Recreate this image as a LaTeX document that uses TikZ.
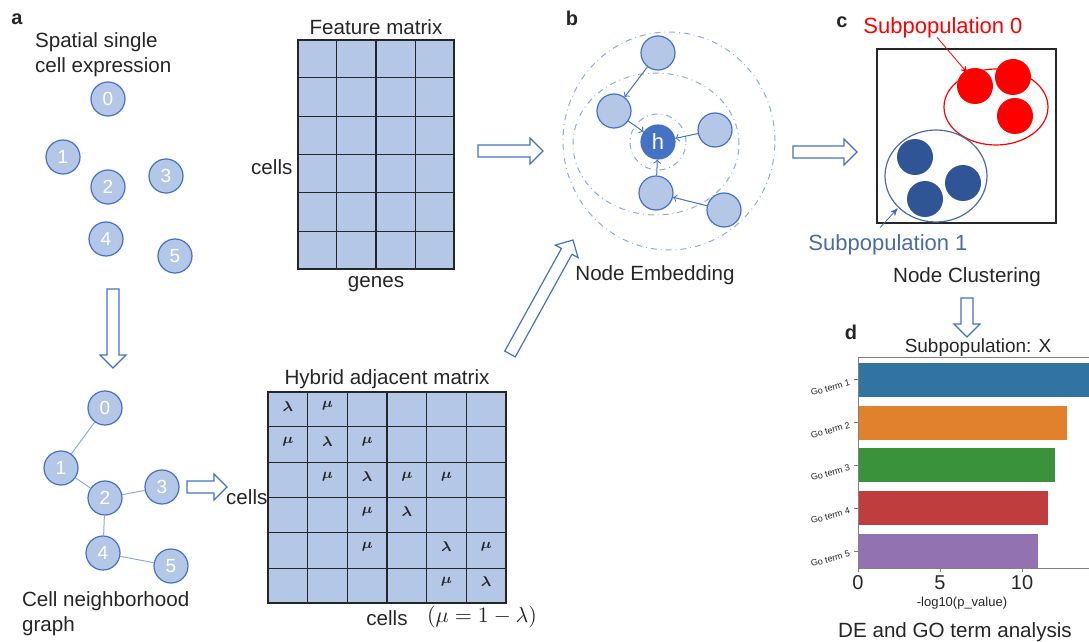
\documentclass[tikz,border=0pt]{standalone}
\usepackage{fontspec}
\setmainfont{Liberation Sans}
\usepackage{amsmath,amssymb}
\usepackage{bm}
\usetikzlibrary{arrows,positioning,calc,shapes.geometric}

\definecolor{celllight}{HTML}{B4C7E7}
\definecolor{cellblue}{HTML}{4472C4}
\definecolor{edgeblue}{HTML}{8FAADC}
\definecolor{darkblue}{HTML}{2F5597}
\definecolor{subblue}{HTML}{4A6AA8}
\definecolor{txt}{HTML}{262626}
\definecolor{sbblue}{HTML}{3274A1}
\definecolor{sborange}{HTML}{E1812C}
\definecolor{sbgreen}{HTML}{3A923A}
\definecolor{sbred}{HTML}{C03D3E}
\definecolor{sbpurple}{HTML}{9372B2}

% hollow block arrow from #1 to #2
\newcommand{\blockarrow}[2]{%
  \path let \p1=(#1), \p2=(#2),
    \n1={veclen(\x2-\x1,\y2-\y1)}, \n2={atan2(\y2-\y1,\x2-\x1)}
    in \pgfextra{\xdef\arrlen{\n1}\xdef\arrang{\n2}};
  \draw[blockarr,shift={(#1)},rotate=\arrang]
    (0pt,-3pt) -- ({\arrlen*1pt-6.5pt},-3pt) -- ({\arrlen*1pt-6.5pt},-6.5pt)
    -- ({\arrlen*1pt},0pt) -- ({\arrlen*1pt-6.5pt},6.5pt)
    -- ({\arrlen*1pt-6.5pt},3pt) -- (0pt,3pt) -- cycle;}

\begin{document}
\begin{tikzpicture}[x=0.5pt,y=-0.5pt,>=stealth',
  every node/.style={text=txt},
  lbl/.style={font=\fontsize{10.3}{12.5}\selectfont},
  panel/.style={font=\fontsize{10}{10}\selectfont\bfseries},
  cell/.style={draw=cellblue,fill=celllight,circle,minimum size=17pt,inner sep=0pt,
    line width=0.6pt,text=white,font=\fontsize{9.5}{9.5}\selectfont},
  nbr/.style={draw=edgeblue,line width=0.5pt},
  mat/.style={draw=black!85,fill=celllight,line width=0.55pt,inner sep=0pt},
  gridline/.style={draw=black!85,line width=0.55pt},
  entry/.style={font=\fontsize{7}{7}\selectfont,inner sep=0pt},
  blockarr/.style={draw=cellblue,fill=white,line width=0.6pt},
  ring/.style={draw=edgeblue,dash dot,line width=0.5pt},
  emb/.style={-to,draw=cellblue,line width=0.5pt},
  dot/.style={circle,minimum size=18pt,inner sep=0pt},
  subarr/.style={->,line width=0.4pt,shorten >=0.5pt},
  axis/.style={draw=black!50,line width=0.5pt},
  goterm/.style={font=\fontsize{4.5}{4.5}\selectfont,anchor=east,rotate=15,inner sep=1pt},
  tick/.style={font=\fontsize{10}{10}\selectfont}]
\useasboundingbox (0,0) rectangle (1089,642);

% a: cells and graph
\node[panel] (la) at (17,19) {a};
\node[lbl,align=left,anchor=west] (title1) at (28,55) {Spatial single\\cell expression};
\node[cell] (s0) at (108,99) {0};
\node[cell] (s1) at (63,157) {1};
\node[cell] (s2) at (108,187) {2};
\node[cell] (s3) at (166,176) {3};
\node[cell] (s4) at (106,239) {4};
\node[cell] (s5) at (175,256) {5};

\node[cell] (g0) at (105,408) {0};
\node[cell] (g1) at (61,468) {1};
\node[cell] (g2) at (105,498) {2};
\node[cell] (g3) at (162,487) {3};
\node[cell] (g4) at (103,553) {4};
\node[cell] (g5) at (171,566) {5};
\draw[nbr] (g0) -- (g1) (g1) -- (g2) (g2) -- (g3) (g2) -- (g4) (g4) -- (g5);
\node[lbl,align=left,anchor=west] (title2) at (15,614) {Cell neighborhood\\graph};

% feature matrix
\node[mat,minimum width=78pt,minimum height=114.5pt] (feat) at (376,154.5) {};
\foreach \i in {1,2,3}
  \draw[gridline] ($(feat.north west)!\i/4!(feat.north east)$) -- ($(feat.south west)!\i/4!(feat.south east)$);
\foreach \j in {1,...,5}
  \draw[gridline] ($(feat.north west)!\j/6!(feat.south west)$) -- ($(feat.north east)!\j/6!(feat.south east)$);
\node[lbl,above=-1pt of feat] (ftitle) {Feature matrix};
\node[lbl,below=0pt of feat] (fgenes) {genes};
\node[lbl,left=-1pt of feat,yshift=-6.5pt] (fcells) {cells};

% hybrid adjacent matrix
\node[mat,minimum width=119pt,minimum height=105.5pt] (hyb) at (387,497.5) {};
\foreach \i in {1,...,5}
  \draw[gridline] ($(hyb.north west)!\i/6!(hyb.north east)$) -- ($(hyb.south west)!\i/6!(hyb.south east)$);
\foreach \j in {1,...,5}
  \draw[gridline] ($(hyb.north west)!\j/6!(hyb.south west)$) -- ($(hyb.north east)!\j/6!(hyb.south east)$);
\foreach \r/\c/\v in {1/1/\lambda,1/2/\mu,2/1/\mu,2/2/\lambda,2/3/\mu,
    3/2/\mu,3/3/\lambda,3/4/\mu,3/5/\mu,4/3/\mu,4/4/\lambda,
    5/3/\mu,5/5/\lambda,5/6/\mu,6/5/\mu,6/6/\lambda}
  \node[entry] (e\r\c) at ({268+39.67*\c-19.83},{392+35.17*\r-21}) {$\bm{\v}$};
\node[lbl,above=-2pt of hyb] (htitle) {Hybrid adjacent matrix};
\node[lbl,left=-3.5pt of hyb] (hcells) {cells};
\node[lbl,below=0pt of hyb] (hcells2) {cells};
\node[font=\fontsize{11}{11}\selectfont] (murel) at (482,617) {$(\mu=1-\lambda)$};

% b: node embedding
\node[panel] (lb) at (572,18) {b};
\draw[ring] (658,142) circle[radius=14pt];
\draw[ring] (656,144) ellipse[x radius=41.5pt,y radius=35.5pt];
\draw[ring] (669,141) ellipse[x radius=53pt,y radius=54.5pt];
\node[cell,fill=cellblue,font=\fontsize{11}{11}\selectfont] (h) at (658,142) {h};
\node[cell] (b1) at (658,53) {};
\node[cell] (b2) at (614,111) {};
\node[cell] (b3) at (715,130) {};
\node[cell] (b4) at (656,193) {};
\node[cell] (b5) at (724,210) {};
\draw[emb] (b1) -- (b2);
\draw[emb] (b2) -- (h);
\draw[emb] (b3) -- (h);
\draw[emb] (b4) -- (h);
\draw[emb] (b5) -- (b4);
\node[lbl] (embtxt) at (655,275) {Node Embedding};

% c: clustering
\node[panel] (lc) at (842,22) {c};
\node[draw=black!85,line width=0.7pt,minimum width=89.5pt,minimum height=87pt] (cbox) at (966.5,136) {};
\node[ellipse,draw=red,line width=0.6pt,minimum width=52pt,minimum height=38pt,inner sep=0pt] (redell) at (996,107) {};
\node[dot,fill=red] (r1) at (975,86) {};
\node[dot,fill=red] (r2) at (1013,77) {};
\node[dot,fill=red] (r3) at (1015,116) {};
\node[ellipse,draw=subblue,line width=0.6pt,minimum width=51pt,minimum height=46pt,inner sep=0pt] (blueell) at (936,176) {};
\node[dot,fill=darkblue] (u1) at (915,157) {};
\node[dot,fill=darkblue] (u2) at (963,183) {};
\node[dot,fill=darkblue] (u3) at (925,199) {};
\node[font=\fontsize{11}{11}\selectfont,text=red] (sub0) at (943,28) {Subpopulation 0};
\draw[subarr,red] ([xshift=-3pt,yshift=4pt]sub0.south) -- (redell.130);
\node[font=\fontsize{11}{11}\selectfont,text=subblue] (sub1) at (888,245) {Subpopulation 1};
\draw[subarr,subblue] ([xshift=-4pt]sub1.north) -- (blueell.220);
\node[lbl] (clustxt) at (967,277) {Node Clustering};

% d: GO term bars
\node[panel] (ld) at (851,332) {d};
\node[font=\fontsize{9.5}{9.5}\selectfont] (dtitle) at (978,348) {Subpopulation: X};
\foreach \y/\e/\c [count=\k] in {380/1089/sbblue,422.5/1067/sborange,465/1055/sbgreen,508/1048/sbred,551/1038/sbpurple} {
  \fill[\c] (858,{\y-17}) rectangle (\e,{\y+17});
  \draw[axis] (854,\y) -- (858,\y);
  \node[goterm] (go\k) at (852,{\y+2}) {Go term \k};
}
\draw[axis] (1089,358) -- (858,358) -- (858,568) -- (1089,568);
\foreach \v/\x in {0/858,5/940,10/1022} {
  \draw[axis] (\x,568) -- (\x,572);
  \node[tick] (t\v) at (\x,583) {\v};
}
\node[font=\fontsize{6.5}{6.5}\selectfont] (xlab) at (962,603) {-log10(p\_value)};
\node[lbl] (detxt) at (955,632) {DE and GO term analysis};

% hollow arrows between panels
\coordinate (a1t) at (113,289); \coordinate (a1h) at (113,368);
\coordinate (a2t) at (187,487); \coordinate (a2h) at (227,487);
\coordinate (a3t) at (478,151); \coordinate (a3h) at (543,151);
\coordinate (a4t) at (510,354); \coordinate (a4h) at (573,240);
\coordinate (a5t) at (793,152); \coordinate (a5h) at (857,152);
\coordinate (a6t) at (967,298); \coordinate (a6h) at (967,337);
\blockarrow{a1t}{a1h}
\blockarrow{a2t}{a2h}
\blockarrow{a3t}{a3h}
\blockarrow{a4t}{a4h}
\blockarrow{a5t}{a5h}
\blockarrow{a6t}{a6h}
\end{tikzpicture}
\end{document}
